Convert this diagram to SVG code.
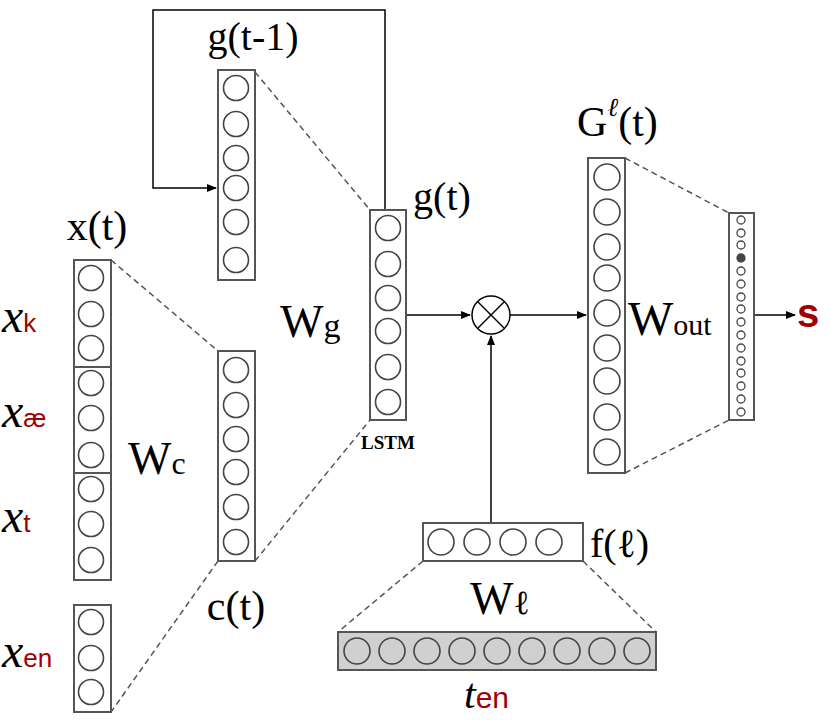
<svg xmlns="http://www.w3.org/2000/svg" width="830" height="720" viewBox="0 0 830 720">
<defs>
<marker id="ah" markerWidth="10" markerHeight="8" refX="9" refY="4" orient="auto" markerUnits="userSpaceOnUse"><path d="M0,0 L10,4 L0,8 Z" fill="#000"/></marker>
<style>
.box{fill:#fff;stroke:#555;stroke-width:2}
.c{fill:#fff;stroke:#444;stroke-width:1.6}
.d{stroke:#555;stroke-width:1.5;stroke-dasharray:6,4;fill:none}
.l{stroke:#000;stroke-width:1.5;fill:none}
.t{font-family:"Liberation Serif",serif;fill:#000}
.r{font-family:"Liberation Sans",sans-serif;fill:#a00000}
</style>
</defs>
<rect width="830" height="720" fill="#fff"/>
<g id="connectors">
<line class="d" x1="111" y1="260" x2="218" y2="351"/>
<line class="d" x1="218" y1="561" x2="111" y2="712"/>
<line class="d" x1="255" y1="72" x2="370" y2="210"/>
<line class="d" x1="255" y1="561" x2="370" y2="420"/>
<line class="d" x1="625" y1="158" x2="729" y2="213"/>
<line class="d" x1="625" y1="473" x2="729" y2="420"/>
<line class="d" x1="423" y1="561" x2="338" y2="632"/>
<line class="d" x1="583" y1="561" x2="656" y2="632"/>
<polyline class="l" points="385,210 385,10 153,10 153,188 216,188" marker-end="url(#ah)"/>
<line class="l" x1="406" y1="315" x2="470" y2="315" marker-end="url(#ah)"/>
<line class="l" x1="510" y1="315" x2="586" y2="315" marker-end="url(#ah)"/>
<line class="l" x1="491" y1="523" x2="491" y2="336" marker-end="url(#ah)"/>
<line class="l" x1="754" y1="315" x2="795" y2="315" marker-end="url(#ah)"/>
</g>
<g id="xt">
<rect class="box" x="74" y="260" width="37" height="107"/>
<rect class="box" x="74" y="367" width="37" height="106"/>
<rect class="box" x="74" y="473" width="37" height="107"/>
<circle class="c" cx="91" cy="278" r="12.5"/><circle class="c" cx="91" cy="314" r="12.5"/><circle class="c" cx="91" cy="348" r="12.5"/>
<circle class="c" cx="91" cy="383" r="12.5"/><circle class="c" cx="91" cy="418" r="12.5"/><circle class="c" cx="91" cy="455" r="12.5"/>
<circle class="c" cx="91" cy="489" r="12.5"/><circle class="c" cx="91" cy="524" r="12.5"/><circle class="c" cx="91" cy="560" r="12.5"/>
<text class="t" x="97" y="240" font-size="42" text-anchor="middle">x(t)</text>
</g>
<g id="xen">
<rect class="box" x="74" y="605" width="37" height="107"/>
<circle class="c" cx="91" cy="622" r="12.5"/><circle class="c" cx="91" cy="658" r="12.5"/><circle class="c" cx="91" cy="692" r="12.5"/>
</g>
<g id="labels-left">
<text x="2" y="332"><tspan class="t" font-style="italic" font-size="48">x</tspan><tspan class="r" font-size="26">k</tspan></text>
<text x="2" y="427"><tspan class="t" font-style="italic" font-size="48">x</tspan><tspan class="r" font-size="26">æ</tspan></text>
<text x="2" y="532"><tspan class="t" font-style="italic" font-size="48">x</tspan><tspan class="r" font-size="26">t</tspan></text>
<text x="2" y="667"><tspan class="t" font-style="italic" font-size="48">x</tspan><tspan class="r" font-size="26">en</tspan></text>
</g>
<g id="ct">
<rect class="box" x="218" y="351" width="37" height="210"/>
<circle class="c" cx="236" cy="370" r="12.5"/><circle class="c" cx="236" cy="405" r="12.5"/><circle class="c" cx="236" cy="439" r="12.5"/>
<circle class="c" cx="236" cy="472" r="12.5"/><circle class="c" cx="236" cy="507" r="12.5"/><circle class="c" cx="236" cy="542" r="12.5"/>
<text class="t" x="236" y="620" font-size="42" text-anchor="middle">c(t)</text>
<text class="t" x="128" y="474" font-size="46">W<tspan font-size="32">c</tspan></text>
</g>
<g id="gt1">
<rect class="box" x="218" y="70" width="37" height="210"/>
<circle class="c" cx="236" cy="88" r="12.5"/><circle class="c" cx="236" cy="124" r="12.5"/><circle class="c" cx="236" cy="158" r="12.5"/>
<circle class="c" cx="236" cy="188" r="12.5"/><circle class="c" cx="236" cy="222" r="12.5"/><circle class="c" cx="236" cy="260" r="12.5"/>
<text class="t" x="253" y="50" font-size="40" text-anchor="middle">g(t-1)</text>
</g>
<g id="gt">
<rect class="box" x="370" y="210" width="36" height="210"/>
<circle class="c" cx="388" cy="228" r="12.5"/><circle class="c" cx="388" cy="264" r="12.5"/><circle class="c" cx="388" cy="298" r="12.5"/>
<circle class="c" cx="388" cy="331" r="12.5"/><circle class="c" cx="388" cy="367" r="12.5"/><circle class="c" cx="388" cy="402" r="12.5"/>
<text class="t" x="442" y="210" font-size="40" text-anchor="middle">g(t)</text>
<text class="t" x="388" y="449" font-size="19" font-weight="bold" text-anchor="middle">LSTM</text>
<text class="t" x="280" y="337" font-size="46">W<tspan font-size="34">g</tspan></text>
</g>
<g id="mult">
<circle cx="491" cy="315" r="19" fill="#fff" stroke="#000" stroke-width="1.5"/>
<line class="l" x1="478" y1="302" x2="504" y2="328"/><line class="l" x1="504" y1="302" x2="478" y2="328"/>
</g>
<g id="G">
<rect class="box" x="588" y="158" width="37" height="315"/>
<circle class="c" cx="607" cy="177" r="13"/><circle class="c" cx="607" cy="212" r="13"/><circle class="c" cx="607" cy="247" r="13"/>
<circle class="c" cx="607" cy="278" r="13"/><circle class="c" cx="607" cy="313" r="13"/><circle class="c" cx="607" cy="348" r="13"/>
<circle class="c" cx="607" cy="381" r="13"/><circle class="c" cx="607" cy="417" r="13"/><circle class="c" cx="607" cy="452" r="13"/>
<text class="t" x="577" y="136" font-size="42">G<tspan font-size="26" font-style="italic" dy="-20">ℓ</tspan><tspan dy="20">(t)</tspan></text>
<text class="t" x="628" y="335" font-size="48">W<tspan font-size="30">out</tspan></text>
</g>
<g id="out">
<rect class="box" x="729" y="213" width="25" height="207"/>
<g fill="#fff" stroke="#444" stroke-width="1.3">
<circle cx="741" cy="220" r="4"/><circle cx="741" cy="233" r="4"/><circle cx="741" cy="245" r="4"/><circle cx="741" cy="258" r="4" fill="#444"/>
<circle cx="741" cy="271" r="4"/><circle cx="741" cy="284" r="4"/><circle cx="741" cy="297" r="4"/><circle cx="741" cy="309" r="4"/>
<circle cx="741" cy="322" r="4"/><circle cx="741" cy="335" r="4"/><circle cx="741" cy="348" r="4"/><circle cx="741" cy="361" r="4"/>
<circle cx="741" cy="373" r="4"/><circle cx="741" cy="386" r="4"/><circle cx="741" cy="399" r="4"/><circle cx="741" cy="412" r="4"/>
</g>
<text class="r" x="797" y="327" font-size="40" font-weight="bold">s</text>
</g>
<g id="f">
<rect class="box" x="423" y="523" width="160" height="38"/>
<circle class="c" cx="441" cy="542" r="13"/><circle class="c" cx="477" cy="542" r="13"/><circle class="c" cx="513" cy="542" r="13"/><circle class="c" cx="549" cy="542" r="13"/>
<text class="t" x="590" y="557" font-size="40">f(ℓ)</text>
<text class="t" x="470" y="614" font-size="46">W<tspan font-size="34">ℓ</tspan></text>
</g>
<g id="ten">
<rect x="338" y="632" width="318" height="38" fill="#d0d0d0" stroke="#555" stroke-width="2"/>
<g fill="#d0d0d0" stroke="#444" stroke-width="1.6">
<circle cx="357" cy="651" r="13"/><circle cx="392" cy="651" r="13"/><circle cx="427" cy="651" r="13"/><circle cx="462" cy="651" r="13"/><circle cx="497" cy="651" r="13"/><circle cx="532" cy="651" r="13"/><circle cx="567" cy="651" r="13"/><circle cx="602" cy="651" r="13"/><circle cx="637" cy="651" r="13"/>
</g>
<text x="464" y="708"><tspan class="t" font-style="italic" font-size="42">t</tspan><tspan class="r" font-size="30">en</tspan></text>
</g>
</svg>
